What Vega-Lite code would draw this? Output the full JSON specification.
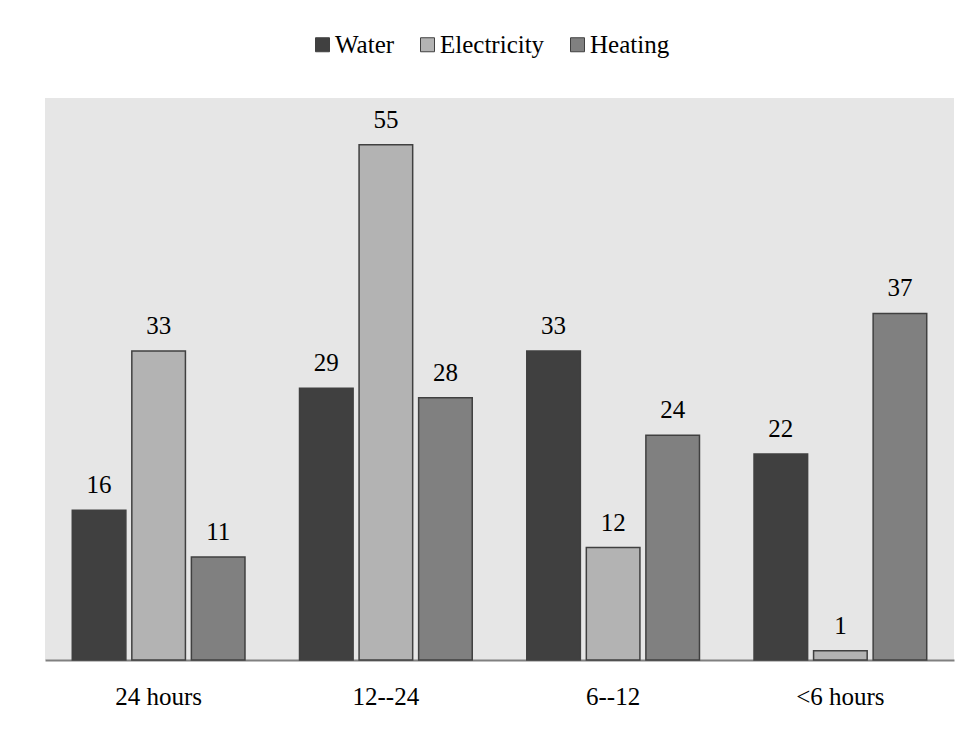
{
  "$schema": "https://vega.github.io/schema/vega-lite/v6.json",
  "width": 909,
  "height": 562,
  "autosize": {"type": "none"},
  "padding": {"left": 45, "top": 98, "right": 13, "bottom": 82},
  "background": "white",
  "config": {
    "view": {"fill": "#e6e6e6", "stroke": null},
    "font": "Liberation Serif"
  },
  "data": {
    "values": [
      {"duration": "24 hours", "utility": "Water", "value": 16},
      {"duration": "24 hours", "utility": "Electricity", "value": 33},
      {"duration": "24 hours", "utility": "Heating", "value": 11},
      {"duration": "12--24", "utility": "Water", "value": 29},
      {"duration": "12--24", "utility": "Electricity", "value": 55},
      {"duration": "12--24", "utility": "Heating", "value": 28},
      {"duration": "6--12", "utility": "Water", "value": 33},
      {"duration": "6--12", "utility": "Electricity", "value": 12},
      {"duration": "6--12", "utility": "Heating", "value": 24},
      {"duration": "<6 hours", "utility": "Water", "value": 22},
      {"duration": "<6 hours", "utility": "Electricity", "value": 1},
      {"duration": "<6 hours", "utility": "Heating", "value": 37}
    ]
  },
  "encoding": {
    "x": {
      "field": "duration",
      "type": "nominal",
      "sort": ["24 hours", "12--24", "6--12", "<6 hours"],
      "scale": {"paddingInner": 0.24, "paddingOuter": 0.12},
      "axis": {
        "title": null,
        "labelAngle": 0,
        "labelFont": "Liberation Serif",
        "labelFontSize": 25,
        "labelColor": "black",
        "labelPadding": 24,
        "ticks": false,
        "domainColor": "#808080",
        "domainWidth": 2
      }
    },
    "xOffset": {
      "field": "utility",
      "type": "nominal",
      "sort": ["Water", "Electricity", "Heating"],
      "scale": {"paddingInner": 0.1, "paddingOuter": 0}
    },
    "y": {
      "field": "value",
      "type": "quantitative",
      "scale": {"domain": [0, 60]},
      "axis": null
    }
  },
  "layer": [
    {
      "mark": {"type": "bar", "stroke": "#404040", "strokeWidth": 1.5},
      "encoding": {
        "fill": {
          "field": "utility",
          "type": "nominal",
          "sort": ["Water", "Electricity", "Heating"],
          "scale": {
            "domain": ["Water", "Electricity", "Heating"],
            "range": ["#404040", "#b3b3b3", "#808080"]
          },
          "legend": {
            "title": null,
            "orient": "none",
            "direction": "horizontal",
            "legendX": 265,
            "legendY": -66,
            "symbolType": "square",
            "symbolSize": 196,
            "symbolStrokeColor": "#404040",
            "symbolStrokeWidth": 1,
            "labelFont": "Liberation Serif",
            "labelFontSize": 25,
            "labelColor": "black",
            "labelOffset": 0,
            "columnPadding": 20
          }
        }
      }
    },
    {
      "mark": {
        "type": "text",
        "baseline": "alphabetic",
        "dy": -17,
        "font": "Liberation Serif",
        "fontSize": 25,
        "color": "black"
      },
      "encoding": {
        "text": {"field": "value", "type": "quantitative"}
      }
    }
  ]
}
